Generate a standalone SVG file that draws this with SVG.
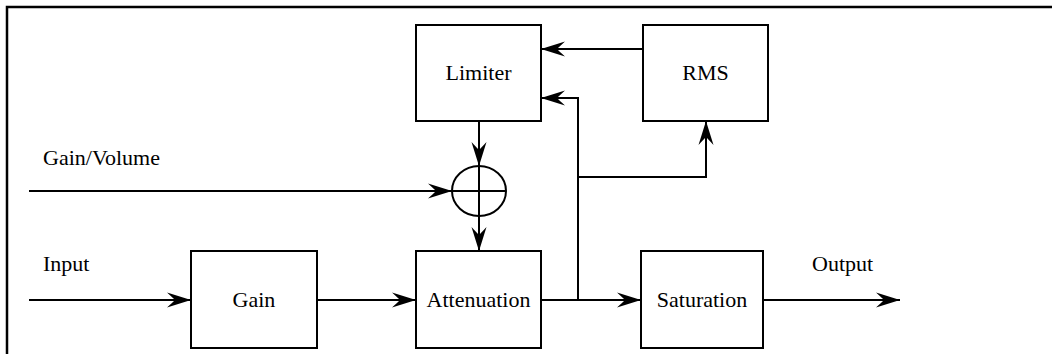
<svg xmlns="http://www.w3.org/2000/svg" width="1052" height="354" viewBox="0 0 1052 354">
<style>
.box{fill:#fff;stroke:#000;stroke-width:2}
.ln{fill:none;stroke:#000;stroke-width:2}
.c{text-anchor:middle}
</style>
<defs>
<marker id="ah" markerUnits="userSpaceOnUse" markerWidth="30" markerHeight="20" viewBox="-26 -10 28 20" refX="0" refY="0" orient="auto">
<path d="M0,0 L-24,-7.5 Q-18,-2 -16,0 Q-18,2 -24,7.5 Z" fill="#000"/>
</marker>
</defs>
<rect width="1052" height="354" fill="#fff"/>
<path d="M7,354 V7 H1052" fill="none" stroke="#000" stroke-width="2.5"/>
<g font-family="Liberation Serif, DejaVu Serif, serif" font-size="22" fill="#000">
<g id="limiter"><rect class="box" x="416" y="25" width="125" height="96"/><text class="c" x="478.5" y="80">Limiter</text></g>
<g id="rms"><rect class="box" x="643" y="25" width="125" height="96"/><text class="c" x="705.5" y="80">RMS</text></g>
<g id="gain"><rect class="box" x="191" y="251" width="126" height="97"/><text class="c" x="254" y="307">Gain</text></g>
<g id="attenuation"><rect class="box" x="416" y="251" width="125" height="97"/><text class="c" x="478.5" y="307">Attenuation</text></g>
<g id="saturation"><rect class="box" x="641" y="251" width="122" height="97"/><text class="c" x="702" y="307">Saturation</text></g>
<g id="sum"><ellipse class="ln" cx="479" cy="191" rx="27" ry="25"/><path class="ln" d="M452,191 H506 M479,166 V216"/></g>
<g id="labels">
<text x="43" y="165">Gain/Volume</text>
<text x="43" y="271">Input</text>
<text x="812" y="271">Output</text>
</g>
</g>
<g id="connectors">
<path class="ln" d="M29,300 H191" marker-end="url(#ah)"/>
<path class="ln" d="M317,300 H416" marker-end="url(#ah)"/>
<path class="ln" d="M541,300 H641" marker-end="url(#ah)"/>
<path class="ln" d="M763,300 H900" marker-end="url(#ah)"/>
<path class="ln" d="M578,300 V98 H541" marker-end="url(#ah)"/>
<path class="ln" d="M578,177 H706 V121" marker-end="url(#ah)"/>
<path class="ln" d="M643,49 H541" marker-end="url(#ah)"/>
<path class="ln" d="M479,121 V166" marker-end="url(#ah)"/>
<path class="ln" d="M479,216 V251" marker-end="url(#ah)"/>
<path class="ln" d="M29,191 H452" marker-end="url(#ah)"/>
</g>
</svg>
